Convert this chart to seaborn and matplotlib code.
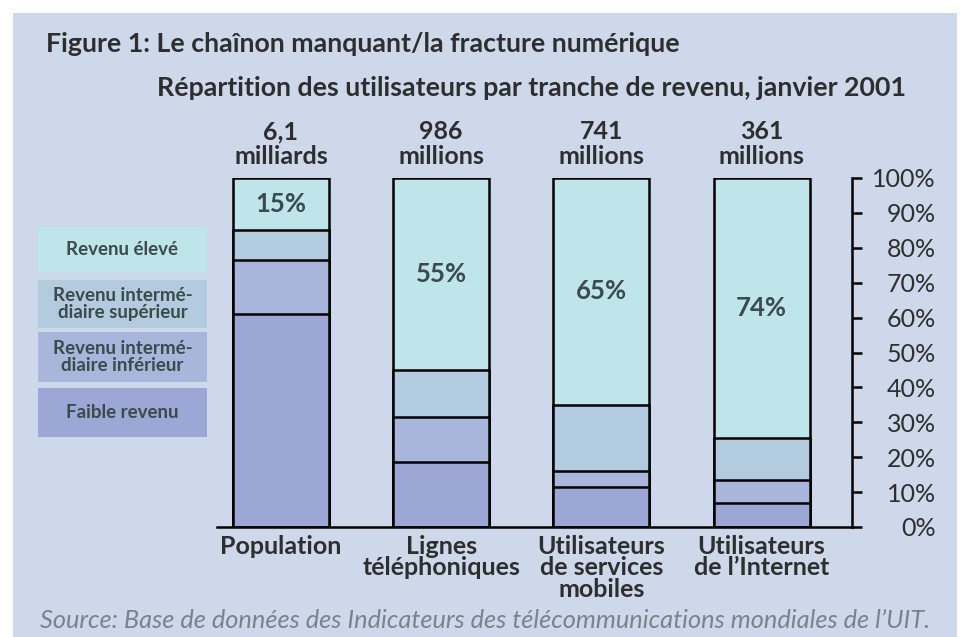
import matplotlib
matplotlib.use("Agg")
import matplotlib.pyplot as plt
from matplotlib.patches import Rectangle
from matplotlib import font_manager
import seaborn as sns
import numpy as np

# ---------------- data ----------------
categories = ["Population", "Lignes\ntéléphoniques",
              "Utilisateurs\nde services\nmobiles", "Utilisateurs\nde l’Internet"]
totals = ["6,1\nmilliards", "986\nmillions", "741\nmillions", "361\nmillions"]
faible = [61, 18.5, 11.5, 7]
inter_inf = [15.5, 13, 4.5, 6.5]
inter_sup = [8.5, 13.5, 19, 12]
eleve = [15, 55, 65, 74.5]
eleve_labels = ["15%", "55%", "65%", "74%"]
legend_labels = ["Revenu élevé", "Revenu intermé-\ndiaire supérieur",
                 "Revenu intermé-\ndiaire inférieur", "Faible revenu"]
yticks = list(range(0, 101, 10))

# ---------------- style ----------------
sns.set_theme(style="white")
names = {f.name for f in font_manager.fontManager.ttflist}
fam = "Lato" if "Lato" in names else "DejaVu Sans"
plt.rcParams["font.family"] = [fam, "DejaVu Sans"]

col_high = "#bde5ea"
col_um = "#b3cbdf"
col_lm = "#a9b6dc"
col_low = "#9ca7d6"
panel = "#cdd8ea"
txt = "#2e2e2e"

W, H = 960, 637
fig = plt.figure(figsize=(W / 100, H / 100), dpi=100, facecolor="white")
fig.patches.append(Rectangle((13 / W, 0), (957 - 13) / W, (H - 13) / H,
                             transform=fig.transFigure, facecolor=panel,
                             edgecolor="none", zorder=-10))

ax = fig.add_axes([216.7 / W, 1 - 527 / H, (852.3 - 216.7) / W, (527 - 178) / H])
ax.set_facecolor("none")

cum1 = np.array(faible)
cum2 = cum1 + np.array(inter_inf)
cum3 = cum2 + np.array(inter_sup)
cum4 = cum3 + np.array(eleve)

for vals, col in [(cum4, col_high), (cum3, col_um), (cum2, col_lm), (cum1, col_low)]:
    sns.barplot(x=categories, y=vals, order=categories, color=col, saturation=1,
                width=0.6, edgecolor="black", linewidth=1.8, ax=ax)

for i, (c3, e, lab) in enumerate(zip(cum3, eleve, eleve_labels)):
    ax.text(i, c3 + e / 2, lab, ha="center", va="center", fontsize=18.5,
            fontweight="bold", color="#3c4950")

for i, t in enumerate(totals):
    ax.text(i, 109.8, t, ha="center", va="center", fontsize=18,
            fontweight="bold", color=txt, linespacing=1.08, clip_on=False)

ax.set_xlim(-0.401, 3.566)
ax.set_ylim(0, 100)
ax.set_xlabel("")
ax.set_ylabel("")
ax.yaxis.tick_right()
ax.set_yticks(yticks)
ax.set_yticklabels([f"{v}%" for v in yticks])
for lab in ax.get_yticklabels():
    lab.set_horizontalalignment("right")
ax.tick_params(axis="y", which="both", right=True, left=False, length=7, width=1.8,
               color="black", labelsize=18, labelcolor=txt, pad=53)
ax.tick_params(axis="x", length=0, pad=6, labelsize=18, labelcolor=txt)
ax.set_xticks(range(len(categories)))
ax.set_xticklabels(categories, fontweight="bold", linespacing=0.9)
for side in ["left", "top"]:
    ax.spines[side].set_visible(False)
for side in ["right", "bottom"]:
    ax.spines[side].set_visible(True)
    ax.spines[side].set_color("black")
    ax.spines[side].set_linewidth(1.8)

# legend boxes
legend_cols = [col_high, col_um, col_lm, col_low]
legend_rows = [(227, 272), (280, 328), (332, 382), (388, 437)]
for (y0, y1), c, lab in zip(legend_rows, legend_cols, legend_labels):
    fig.patches.append(Rectangle((38 / W, 1 - y1 / H), (207 - 38) / W, (y1 - y0) / H,
                                 transform=fig.transFigure, facecolor=c,
                                 edgecolor="none", zorder=-5))
    fig.text(122.5 / W, 1 - (y0 + y1) / 2 / H, lab, ha="center", va="center",
             fontsize=13.5, fontweight="bold", color="#3b4a4a", linespacing=0.95)

fig.text(46 / W, 1 - 44 / H, "Figure 1: Le chaînon manquant/la fracture numérique",
         ha="left", va="center", fontsize=19.3, fontweight="bold", color=txt)
fig.text(906 / W, 1 - 88 / H,
         "Répartition des utilisateurs par tranche de revenu, janvier 2001",
         ha="right", va="center", fontsize=19.3, fontweight="bold", color=txt)
fig.text(40 / W, 1 - 621 / H,
         "Source: Base de données des Indicateurs des télécommunications mondiales de l’UIT.",
         ha="left", va="center", fontsize=18.3, style="italic", fontweight="normal",
         color="#7a828b")

fig.savefig("out.png", dpi=100, facecolor=fig.get_facecolor())
